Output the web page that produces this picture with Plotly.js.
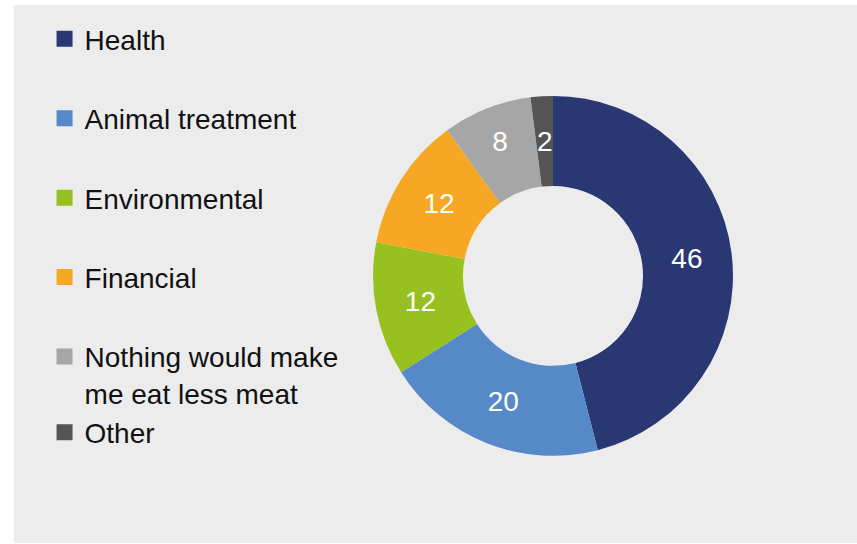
<!DOCTYPE html>
<html>
<head>
<meta charset="utf-8">
<script src="https://cdn.plot.ly/plotly-3.0.1.min.js"></script>
<style>
html,body{margin:0;padding:0;background:#ffffff;}
#chart{width:857px;height:544px;}
</style>
</head>
<body>
<div id="chart"></div>
<script>
var categories = ["Health", "Animal treatment", "Environmental", "Financial", "Nothing would make<br>me eat less meat", "Other"];
var values = [46, 20, 12, 12, 8, 2];
var colors = ["#293873", "#5589c8", "#97c11f", "#f6a723", "#a6a6a6", "#545454"];
var legendGroups = ["g1", "g2", "g3", "g4", "g5", "g5"];
var sliceTemplates = ["%{value}", "%{value}", "%{value}", "%{value}", "%{value}", ""];

var domainX = [0.4259, 0.8529];
var domainY = [0.162, 0.831];
var margin = {l: 14, r: 0, t: 5, b: 1};
var W = 857, H = 544;
var plotW = W - margin.l - margin.r, plotH = H - margin.t - margin.b;

var traces = [{
  type: "pie",
  labels: categories,
  values: values,
  sort: false,
  direction: "clockwise",
  rotation: 0,
  hole: 0.5,
  marker: {colors: colors, line: {width: 0}},
  texttemplate: sliceTemplates,
  textposition: "inside",
  insidetextorientation: "horizontal",
  textfont: {family: "Liberation Sans, Arial, sans-serif", size: 28, color: "#ffffff"},
  showlegend: false,
  domain: {x: domainX, y: domainY},
  hoverinfo: "label+value"
}];

categories.forEach(function(c, i) {
  traces.push({
    type: "scatter",
    x: [null], y: [null],
    mode: "markers",
    name: c,
    legendgroup: legendGroups[i],
    marker: {symbol: "square", size: 16, color: colors[i]},
    showlegend: true,
    hoverinfo: "skip"
  });
});

// label for the very thin last slice, placed at its mid-angle / mid-radius (not shrunk)
var total = values.reduce(function(a, b) { return a + b; }, 0);
var before = values.slice(0, values.length - 1).reduce(function(a, b) { return a + b; }, 0);
var midFrac = (before + values[values.length - 1] / 2) / total;
var theta = midFrac * 2 * Math.PI;
var R = Math.min((domainX[1] - domainX[0]) * plotW, (domainY[1] - domainY[0]) * plotH) / 2;
var rMid = R * (1 + 0.5) / 2;
var cx = (domainX[0] + domainX[1]) / 2, cy = (domainY[0] + domainY[1]) / 2;

var layout = {
  width: W, height: H,
  margin: {l: margin.l, r: margin.r, t: margin.t, b: margin.b, autoexpand: false},
  paper_bgcolor: "#ffffff",
  plot_bgcolor: "rgba(0,0,0,0)",
  xaxis: {visible: false},
  yaxis: {visible: false},
  shapes: [{
    type: "rect", xref: "paper", yref: "paper",
    x0: 0, x1: 1, y0: 0, y1: 1,
    fillcolor: "#ececec", line: {width: 0}, layer: "below"
  }],
  annotations: [{
    xref: "paper", yref: "paper",
    x: cx + rMid * Math.sin(theta) / plotW,
    y: cy + rMid * Math.cos(theta) / plotH,
    text: String(values[values.length - 1]),
    showarrow: false,
    xanchor: "center", yanchor: "middle",
    font: {family: "Liberation Sans, Arial, sans-serif", size: 28, color: "#ffffff"}
  }],
  showlegend: true,
  legend: {
    xref: "container", yref: "container",
    x: 0.052, y: 0.974, xanchor: "left", yanchor: "top",
    maxheight: 1,
    bgcolor: "rgba(0,0,0,0)", borderwidth: 0,
    font: {family: "Liberation Sans, Arial, sans-serif", size: 28, color: "#111111"},
    tracegroupgap: 40,
    valign: "top",
    itemclick: false, itemdoubleclick: false
  }
};

Plotly.newPlot("chart", traces, layout, {displayModeBar: false, staticPlot: true});
</script>
</body>
</html>
